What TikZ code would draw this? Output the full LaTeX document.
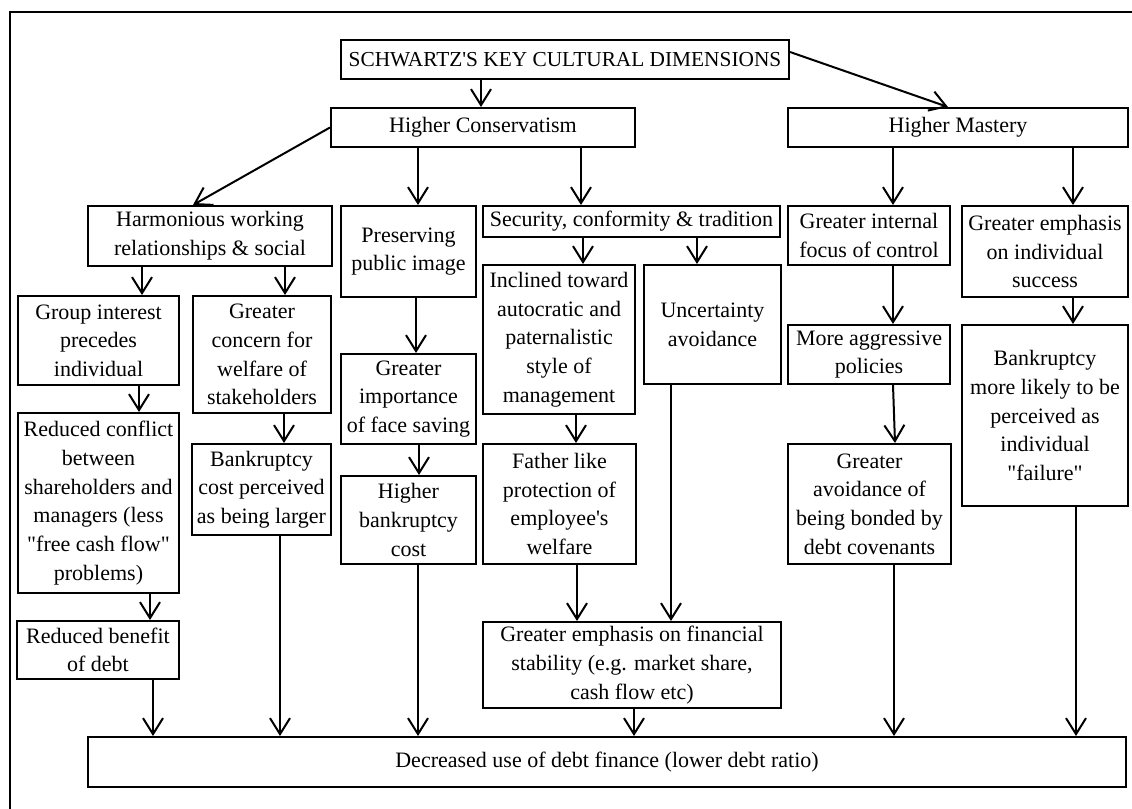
\documentclass[tikz,border=0pt]{standalone}
\usepackage{fontspec}
\setmainfont{Liberation Serif}
\usetikzlibrary{arrows.meta}

\tikzset{
  box/.style 2 args={draw, line width=1.5pt, inner sep=0pt, align=center,
    minimum width=#1, minimum height=#2, font=\fontsize{16.5}{21.5}\selectfont},
  arr/.style={line width=1.5pt, -{Straight Barb[length=12pt,width=15pt]}},
}

\begin{document}
\begin{tikzpicture}[x=0.75pt, y=-0.75pt]
  \useasboundingbox (0,0) rectangle (1132,809);

  % Frame
  \draw[line width=1.5pt] (10,809) -- (10,12) -- (1132,12);

  % Top levels
  \node[box={336pt}{29.25pt}, font=\fontsize{16}{21.5}\selectfont] (schwartz) at (565,59.5) {SCHWARTZ\textquotesingle S KEY CULTURAL DIMENSIONS};
  \node[box={228pt}{29.25pt}] (cons) at (483,127.5) {Higher Conservatism};
  \node[box={255pt}{29.25pt}] (mast) at (958,127.5) {Higher Mastery};

  % Second row
  \node[box={183pt}{45pt}] (harm) at (210,236) {Harmonious working\\relationships \& social};
  \node[box={101.25pt}{68.25pt}] (pres) at (408.5,251.5) {Preserving\\public image};
  \node[box={222.75pt}{23.25pt}] (secu) at (631.5,221.5) {Security, conformity \& tradition};
  \node[box={121.5pt}{44.25pt}] (intf) at (869,235.5) {Greater internal\\focus of control};
  \node[box={124.5pt}{68.25pt}] (emph) at (1045,251.5) {Greater emphasis\\on individual\\success};

  % Third row
  \node[box={120.75pt}{66.75pt}] (grp) at (98.5,340.5) {Group interest\\precedes\\individual};
  \node[box={103.5pt}{87.75pt}] (conc) at (262,354.5) {Greater\\concern for\\welfare of\\stakeholders};
  \node[box={101.25pt}{67.5pt}] (impo) at (408.5,399) {Greater\\importance\\of face saving};
  \node[box={114pt}{111.75pt}] (incl) at (559,339.5) {Inclined toward\\autocratic and\\paternalistic\\style of\\management};
  \node[box={102.75pt}{89.25pt}] (unce) at (712.5,324.5) {Uncertainty\\avoidance};
  \node[box={121.5pt}{44.25pt}] (aggr) at (869,354.5) {More aggressive\\policies};
  \node[box={124.5pt}{135.75pt}] (bkrl) at (1045,415.5) {Bankruptcy\\more likely to be\\perceived as\\individual\\\textquotedbl failure\textquotedbl};

  % Fourth row
  \node[box={120.75pt}{135pt}] (redc) at (98.5,503) {Reduced conflict\\between\\shareholders and\\managers (less\\\textquotedbl free cash flow\textquotedbl\\problems)};
  \node[box={104.25pt}{68.25pt}] (bkrc) at (261.5,489.5) {Bankruptcy\\cost perceived\\as being larger};
  \node[box={101.25pt}{66pt}] (hbkr) at (408.5,520) {Higher\\bankruptcy\\cost};
  \node[box={114.75pt}{90pt}] (fath) at (559.5,504) {Father like\\protection of\\employee\textquotesingle s\\welfare};
  \node[box={122.25pt}{90pt}] (avoi) at (869.5,504) {Greater\\avoidance of\\being bonded by\\debt covenants};

  % Fifth row
  \node[box={121.5pt}{43.5pt}] (redb) at (98,650) {Reduced benefit\\of debt};
  \node[box={223.5pt}{64.5pt}] (fina) at (632,665) {Greater emphasis on financial\\stability (e.g. market share,\\cash flow etc)};

  % Result
  \node[box={778.5pt}{37.5pt}] (decr) at (607,762) {Decreased use of debt finance (lower debt ratio)};

  % Arrows from the dimensions
  \draw[arr] (schwartz.south -| 481,0) -- (cons.north -| 481,0);
  \draw[arr] (schwartz.east |- 0,52) -- (mast.north -| 948,0);
  \draw[arr] (cons.west) -- (harm.north -| 193,0);
  \draw[arr] (cons.south -| 418,0) -- (pres.north -| 418,0);
  \draw[arr] (cons.south -| 581,0) -- (secu.north -| 581,0);
  \draw[arr] (mast.south -| 893,0) -- (intf.north -| 893,0);
  \draw[arr] (mast.south -| 1073,0) -- (emph.north -| 1073,0);

  % Inner arrows
  \draw[arr] (harm.south -| 142,0) -- (grp.north -| 142,0);
  \draw[arr] (harm.south -| 285,0) -- (conc.north -| 285,0);
  \draw[arr] (grp.south -| 139,0) -- (redc.north -| 139,0);
  \draw[arr] (conc.south -| 284,0) -- (bkrc.north -| 284,0);
  \draw[arr] (pres.south -| 416,0) -- (impo.north -| 416,0);
  \draw[arr] (impo.south -| 419,0) -- (hbkr.north -| 419,0);
  \draw[arr] (secu.south -| 583,0) -- (incl.north -| 583,0);
  \draw[arr] (secu.south -| 697,0) -- (unce.north -| 697,0);
  \draw[arr] (incl.south -| 576,0) -- (fath.north -| 576,0);
  \draw[arr] (intf.south -| 893,0) -- (aggr.north -| 893,0);
  \draw[arr] (aggr.south -| 893,0) -- (avoi.north -| 895,0);
  \draw[arr] (emph.south -| 1073,0) -- (bkrl.north -| 1073,0);
  \draw[arr] (redc.south -| 150,0) -- (redb.north -| 150,0);
  \draw[arr] (fath.south -| 577,0) -- (fina.north -| 577,0);
  \draw[arr] (unce.south -| 671,0) -- (fina.north -| 671,0);

  % Into the result
  \draw[arr] (redb.south -| 153,0) -- (decr.north -| 153,0);
  \draw[arr] (bkrc.south -| 280,0) -- (decr.north -| 280,0);
  \draw[arr] (hbkr.south -| 418,0) -- (decr.north -| 418,0);
  \draw[arr] (fina.south -| 634,0) -- (decr.north -| 634,0);
  \draw[arr] (avoi.south -| 894,0) -- (decr.north -| 894,0);
  \draw[arr] (bkrl.south -| 1076,0) -- (decr.north -| 1076,0);
\end{tikzpicture}
\end{document}
